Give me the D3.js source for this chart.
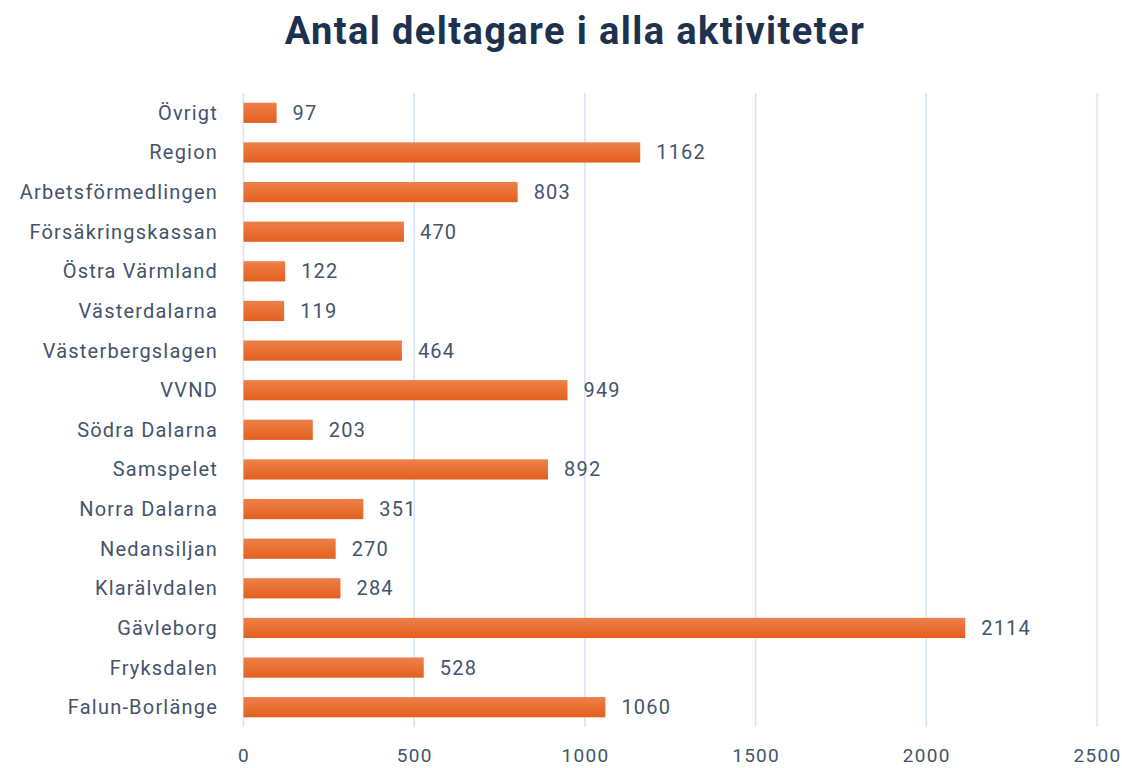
<!DOCTYPE html>
<html><head><meta charset="utf-8">
<script src="https://cdn.jsdelivr.net/npm/d3@7"></script>
<style>
body{margin:0;background:#fff;}
svg{display:block;}
</style></head>
<body>
<svg id="chart" width="1122" height="768"></svg>
<script>
const categories = ["Övrigt","Region","Arbetsförmedlingen","Försäkringskassan","Östra Värmland","Västerdalarna","Västerbergslagen","VVND","Södra Dalarna","Samspelet","Norra Dalarna","Nedansiljan","Klarälvdalen","Gävleborg","Fryksdalen","Falun-Borlänge"];
const values = [97,1162,803,470,122,119,464,949,203,892,351,270,284,2114,528,1060];
const xTicks = [0,500,1000,1500,2000,2500];
const title = "Antal deltagare i alla aktiviteter";

const svg = d3.select("#chart");
const mLeft = 243.5, mRight = 1097, mTop = 93, mBottom = 727;
const x = d3.scaleLinear().domain([0,2500]).range([mLeft,mRight]);
const y = d3.scaleBand().domain(categories).range([mTop,mBottom]).paddingInner(0.49).paddingOuter(0.245);

const textColor = "#44546a";
const font = "Roboto, sans-serif";

// gridlines
svg.append("g").selectAll("line").data(xTicks).join("line")
  .attr("x1",d=>x(d)).attr("x2",d=>x(d)).attr("y1",mTop).attr("y2",mBottom)
  .attr("stroke","#d6e4f5").attr("stroke-width",1.5);

// x axis
const xAxis = d3.axisBottom(x).tickValues(xTicks).tickFormat(d3.format("d")).tickSize(0).tickPadding(0);
const gx = svg.append("g").attr("transform",`translate(0,${mBottom})`).call(xAxis);
gx.select(".domain").remove();
gx.selectAll("text").attr("dy",0).attr("y",35).attr("font-family",font).attr("font-size",19)
  .attr("letter-spacing",1.3).attr("fill",textColor);

// y axis
const yAxis = d3.axisLeft(y).tickSize(0).tickPadding(0);
const gy = svg.append("g").attr("transform",`translate(218,0)`).call(yAxis);
gy.select(".domain").remove();
gy.selectAll("text").attr("font-family",font).attr("font-size",20).attr("letter-spacing",1.2)
  .attr("fill",textColor).attr("dy","0.35em");

// gradient
const defs = svg.append("defs");
const grad = defs.append("linearGradient").attr("id","barg").attr("x1",0).attr("x2",0).attr("y1",0).attr("y2",1);
grad.append("stop").attr("offset","0%").attr("stop-color","#EE804A");
grad.append("stop").attr("offset","100%").attr("stop-color","#E3601E");

// bars
svg.append("g").selectAll("rect").data(values).join("rect")
  .attr("x",x(0)).attr("y",(d,i)=>y(categories[i]))
  .attr("width",d=>x(d)-x(0)).attr("height",y.bandwidth())
  .attr("fill","url(#barg)");

// value labels
svg.append("g").selectAll("text").data(values).join("text")
  .attr("x",d=>x(d)+16).attr("y",(d,i)=>y(categories[i])+y.bandwidth()/2)
  .attr("dy","0.35em").attr("font-family",font).attr("font-size",20).attr("letter-spacing",1.2)
  .attr("fill",textColor)
  .text(d=>d);

// title
svg.append("text").attr("x",575).attr("y",44).attr("text-anchor","middle")
  .attr("font-family",font).attr("font-weight","bold").attr("font-size",38).attr("letter-spacing",1.4)
  .attr("fill","#1d324f")
  .text(title);
</script>
</body></html>
